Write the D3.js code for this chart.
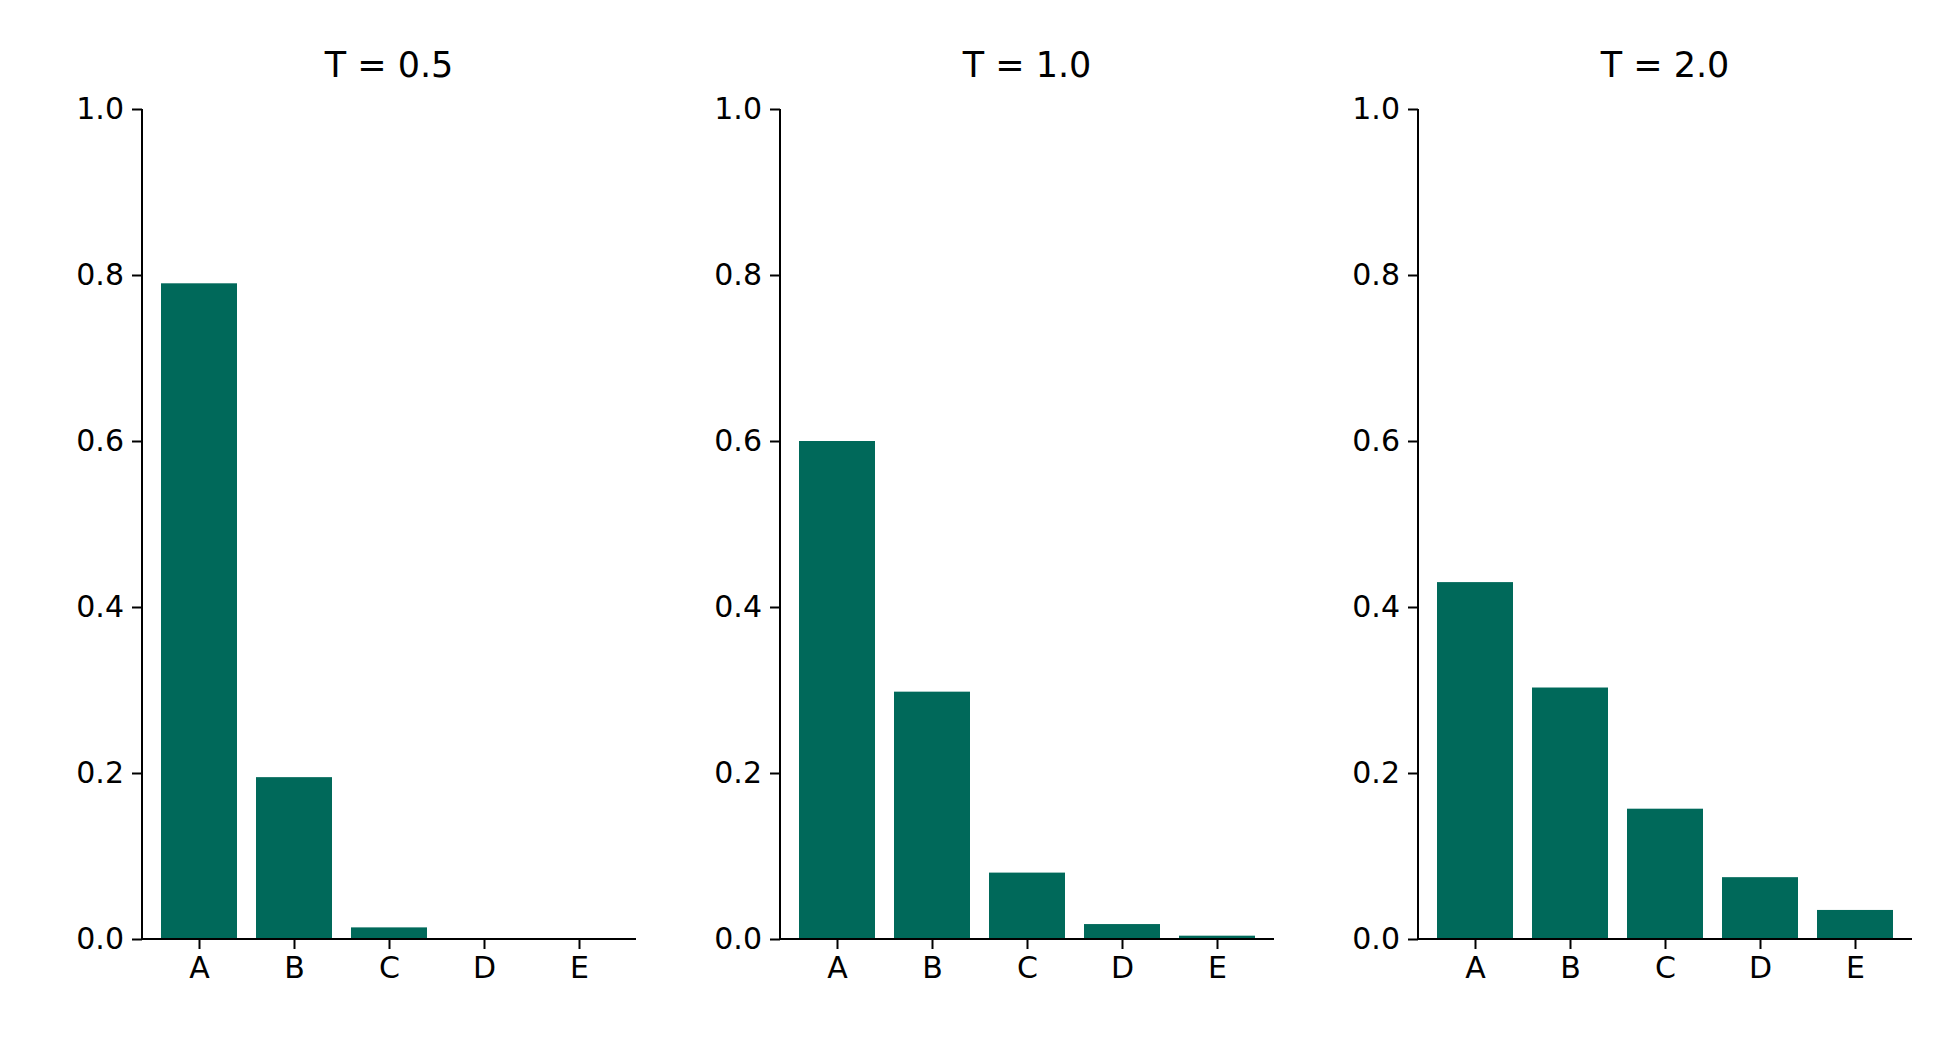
<!DOCTYPE html>
<html><head><meta charset="utf-8">
<script src="https://cdn.jsdelivr.net/npm/d3@7"></script>
<style>body{margin:0;background:#fff}</style>
</head><body>
<script>
const categories = ['A', 'B', 'C', 'D', 'E'];
const temperatures = ['0.5', '1.0', '2.0'];
const probsT05 = [0.790, 0.195, 0.014, 0.0007, 0.00004];
const probsT10 = [0.600, 0.298, 0.080, 0.018, 0.004];
const probsT20 = [0.430, 0.303, 0.157, 0.0745, 0.035];
const yTicks = [0, 0.2, 0.4, 0.6, 0.8, 1.0];
const series = [probsT05, probsT10, probsT20];

const svg = d3.select('body').append('svg').attr('width', 1950).attr('height', 1050);
const font = 'DejaVu Sans';
const plotTop = 109, plotBottom = 939, panelW = 494, panelStep = 638, left0 = 142;

series.forEach((vals, k) => {
  const g = svg.append('g').attr('transform', `translate(${left0 + k * panelStep},0)`);
  const x = d3.scaleLinear().domain([-0.6, 4.6]).range([0, panelW]);
  const y = d3.scaleLinear().domain([0, 1]).range([plotBottom, plotTop]);
  const bw = x(0.8) - x(0);

  g.selectAll('rect').data(vals).enter().append('rect')
    .attr('x', (d, i) => x(i - 0.4)).attr('width', bw)
    .attr('y', d => y(d)).attr('height', d => plotBottom - y(d))
    .attr('fill', '#00695a');

  const ya = g.append('g').call(d3.axisLeft(y).tickValues(yTicks).tickFormat(d3.format('.1f')).tickSize(10).tickPadding(8));
  const xa = g.append('g').attr('transform', `translate(0,${plotBottom})`)
    .call(d3.axisBottom(x).tickValues(d3.range(categories.length)).tickFormat(i => categories[i]).tickSize(10).tickPadding(8));
  [ya, xa].forEach(a => {
    a.select('.domain').attr('stroke-width', 2);
    a.selectAll('line').attr('stroke-width', 2);
    a.selectAll('text').attr('font-family', font).attr('font-size', 30).attr('fill', '#000');
  });
  ya.select('.domain').attr('d', `M0,${plotTop}V${plotBottom}`);
  xa.select('.domain').attr('d', `M0,0H${panelW}`);

  g.append('text').attr('x', panelW / 2).attr('y', 77).attr('text-anchor', 'middle')
    .attr('font-family', font).attr('font-size', 35).text(`T = ${temperatures[k]}`);
});
</script>
</body></html>
